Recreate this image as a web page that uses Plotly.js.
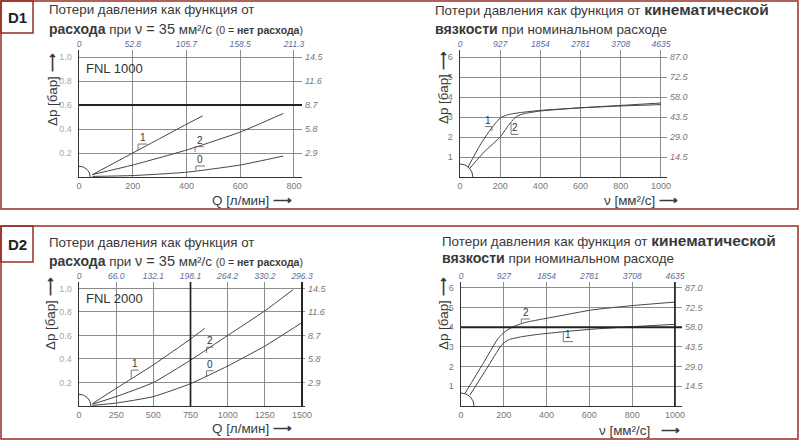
<!DOCTYPE html>
<html><head><meta charset="utf-8">
<script src="https://cdn.plot.ly/plotly-3.0.1.min.js"></script>
<style>html,body{margin:0;padding:0;background:#fff}#chart{width:800px;height:441px}</style>
</head><body><div id="chart"></div>
<script>
// ---------- DATA ----------
// D1 / FNL 1000 : pressure loss vs flow Q [l/min]
const d1FlowC1Q  = [50, 200, 300, 400, 460];
const d1FlowC1Dp = [0.02, 0.2, 0.32, 0.44, 0.51];
const d1FlowC2Q  = [50, 200, 400, 600, 760];
const d1FlowC2Dp = [0.02, 0.1, 0.225, 0.375, 0.53];
const d1FlowC0Q  = [50, 200, 400, 600, 760];
const d1FlowC0Dp = [0.005, 0.012, 0.04, 0.1, 0.175];
const d1FlowXTicks = [0, 200, 400, 600, 800];
const d1FlowTopText = ['0', '52.8', '105.7', '158.5', '211.3'];
// D1 : pressure loss vs viscosity
const d1ViscC1Nu = [40, 100, 150, 200, 240, 300, 400, 600, 800, 1000];
const d1ViscC1Dp = [0.5, 1.6, 2.35, 2.95, 3.12, 3.22, 3.33, 3.46, 3.55, 3.62];
const d1ViscC2Nu = [50, 120, 200, 250, 280, 320, 400, 600, 800, 1000];
const d1ViscC2Dp = [0.45, 1.25, 2.0, 2.7, 3.02, 3.17, 3.3, 3.46, 3.58, 3.7];
// D2 / FNL 2000 : pressure loss vs flow
const d2FlowC1Q  = [90, 250, 500, 750, 845];
const d2FlowC1Dp = [0.02, 0.15, 0.35, 0.57, 0.66];
const d2FlowC2Q  = [90, 250, 500, 750, 1000, 1250, 1440];
const d2FlowC2Dp = [0.015, 0.08, 0.2, 0.39, 0.6, 0.81, 0.99];
const d2FlowC0Q  = [90, 250, 500, 750, 1000, 1250, 1500];
const d2FlowC0Dp = [0.005, 0.025, 0.08, 0.19, 0.34, 0.51, 0.71];
const d2FlowXTicks = [0, 250, 500, 750, 1000, 1250, 1500];
const d2FlowTopText = ['0', '66.0', '132.1', '198.1', '264.2', '330.2', '296.3'];
// D2 : pressure loss vs viscosity
const d2ViscC1Nu = [42, 120, 190, 221, 284, 361, 486, 611, 800, 1000];
const d2ViscC1Dp = [0.56, 1.9, 3.1, 3.36, 3.52, 3.64, 3.78, 3.9, 4.03, 4.15];
const d2ViscC2Nu = [19, 100, 174, 206, 244, 299, 377, 486, 611, 800, 1000];
const d2ViscC2Dp = [0.65, 2.1, 3.44, 3.78, 4.03, 4.24, 4.41, 4.63, 4.88, 5.1, 5.28];
// shared tick labels
const flowYTicks = [0.2, 0.4, 0.6, 0.8, 1.0];
const flowYText  = ['0.2', '0.4', '0.6', '0.8', '1.0'];
const flowPsiText = ['2.9', '5.8', '8.7', '11.6', '14.5'];
const viscXTicks = [0, 200, 400, 600, 800, 1000];
const viscTopText = ['0', '927', '1854', '2781', '3708', '4635'];
const viscYTicks = [1, 2, 3, 4, 5, 6];
const viscYText  = ['1', '2', '3', '4', '5', '6'];
const viscPsiText = ['14.5', '29.0', '43.5', '58.0', '72.5', '87.0'];

// ---------- LAYOUT ----------
const W = 800, H = 441;
const FONT = 'Liberation Sans, Arial, sans-serif';
const px = v => v / W, py = v => 1 - v / H;
const curveLine = {color: '#444', width: 1, shape: 'spline', smoothing: 0.5};
const gridC = '#8c8c8c';

const panels = [
  {n: 1, xd: [79, 302], yd: [50, 177], xr: [0, 830], yr: [0, 1.06], xt: d1FlowXTicks, xtt: d1FlowXTicks.map(String), top: d1FlowTopText,
   yt: flowYTicks, ytt: flowYText, right: flowPsiText, ylabC: '#a8a8a8'},
  {n: 2, xd: [460, 667], yd: [50, 177], xr: [0, 1030], yr: [0, 6.35], xt: viscXTicks, xtt: viscXTicks.map(String), top: viscTopText,
   yt: viscYTicks, ytt: viscYText, right: viscPsiText, ylabC: '#777'},
  {n: 3, xd: [79, 305], yd: [282, 406], xr: [0, 1520], yr: [0, 1.055], xt: d2FlowXTicks, xtt: d2FlowXTicks.map(String), top: d2FlowTopText,
   yt: flowYTicks, ytt: flowYText, right: flowPsiText, ylabC: '#a8a8a8'},
  {n: 4, xd: [461, 682], yd: [282, 406], xr: [0, 1033], yr: [0, 6.3], xt: viscXTicks, xtt: viscXTicks.map(String), top: viscTopText,
   yt: viscYTicks, ytt: viscYText, right: viscPsiText, ylabC: '#777'}
];

const layout = {
  width: W, height: H, margin: {l: 0, r: 0, t: 0, b: 0},
  paper_bgcolor: '#fff', plot_bgcolor: 'rgba(0,0,0,0)', showlegend: false,
  font: {family: FONT, color: '#333'}, shapes: [], annotations: []
};
const traces = [];

panels.forEach(p => {
  const xk = p.n === 1 ? 'xaxis' : 'xaxis' + p.n, yk = p.n === 1 ? 'yaxis' : 'yaxis' + p.n;
  const xid = p.n === 1 ? 'x' : 'x' + p.n, yid = p.n === 1 ? 'y' : 'y' + p.n;
  const xTop = 'x' + (p.n + 4), yRight = 'y' + (p.n + 4);
  layout[xk] = {domain: [px(p.xd[0]), px(p.xd[1])], range: p.xr, anchor: yid, fixedrange: true,
    tickmode: 'array', tickvals: p.xt, ticktext: p.xtt, ticks: '', showgrid: true, gridcolor: gridC, gridwidth: 1,
    zeroline: false, showline: true, linecolor: '#333', linewidth: 1.3,
    tickfont: {size: 9, color: '#777', family: FONT}};
  layout[yk] = {domain: [py(p.yd[1]), py(p.yd[0])], range: p.yr, anchor: xid, fixedrange: true,
    tickmode: 'array', tickvals: p.yt, ticktext: p.ytt, ticks: '', showgrid: true, gridcolor: gridC, gridwidth: 1,
    zeroline: false, showline: true, linecolor: '#333', linewidth: 1.5, ticklabelstandoff: 4,
    tickfont: {size: 9, color: p.ylabC, family: FONT}};
  layout['xaxis' + (p.n + 4)] = {overlaying: xid, side: 'top', anchor: yid, range: p.xr, fixedrange: true,
    tickmode: 'array', tickvals: p.xt, ticktext: p.top, ticks: '', showgrid: false, zeroline: false, showline: false,
    tickfont: {size: 8.5, color: '#5d6c9c', family: FONT, style: 'italic'}};
  layout['yaxis' + (p.n + 4)] = {overlaying: yid, side: 'right', anchor: xid, range: p.yr, fixedrange: true,
    tickmode: 'array', tickvals: p.yt, ticktext: p.right, ticks: '', showgrid: false, zeroline: false, showline: false,
    ticklabelstandoff: 2, tickfont: {size: 9, color: '#777', family: FONT, style: 'italic'}};
  traces.push({type: 'scatter', x: [null], y: [null], xaxis: xTop, yaxis: yid, hoverinfo: 'skip', showlegend: false});
  traces.push({type: 'scatter', x: [null], y: [null], xaxis: xid, yaxis: yRight, hoverinfo: 'skip', showlegend: false});
  p.xid = xid; p.yid = yid;
});

function curve(p, xs, ys) {
  traces.push({type: 'scatter', mode: 'lines', x: xs, y: ys, xaxis: p.xid, yaxis: p.yid,
    line: curveLine, hoverinfo: 'skip', showlegend: false, cliponaxis: true});
}
curve(panels[0], d1FlowC1Q, d1FlowC1Dp);
curve(panels[0], d1FlowC2Q, d1FlowC2Dp);
curve(panels[0], d1FlowC0Q, d1FlowC0Dp);
curve(panels[1], d1ViscC1Nu, d1ViscC1Dp);
curve(panels[1], d1ViscC2Nu, d1ViscC2Dp);
curve(panels[2], d2FlowC1Q, d2FlowC1Dp);
curve(panels[2], d2FlowC2Q, d2FlowC2Dp);
curve(panels[2], d2FlowC0Q, d2FlowC0Dp);
curve(panels[3], d2ViscC1Nu, d2ViscC1Dp);
curve(panels[3], d2ViscC2Nu, d2ViscC2Dp);

// origin arcs (quarter circles, clipped by the subplot)
const arcR = [[42, 0.09], [64, 0.65], [80, 0.1], [61, 0.66]];
panels.forEach((p, i) => {
  layout.shapes.push({type: 'circle', xref: p.xid, yref: p.yid, x0: -arcR[i][0], x1: arcR[i][0], y0: -arcR[i][1], y1: arcR[i][1],
    line: {color: '#444', width: 1}, layer: 'above'});
});

// heavy reference lines
const heavy = (p, o, w) => layout.shapes.push(Object.assign({type: 'line', xref: p.xid, yref: p.yid, line: {color: '#222', width: w || 2}}, o));
heavy(panels[0], {x0: 0, x1: 830, y0: 0.6, y1: 0.6});
heavy(panels[2], {x0: 750, x1: 750, y0: 0, y1: 1.055}, 1.7);
heavy(panels[2], {x0: 1500, x1: 1500, y0: 0, y1: 1.055});
heavy(panels[3], {x0: 0, x1: 1033, y0: 4, y1: 4});
heavy(panels[3], {x0: 1000, x1: 1000, y0: 0, y1: 6.3}, 1.7);

// curve labels with leader brackets
function tag(p, txt, path, tx, ty) {
  layout.shapes.push({type: 'path', xref: p.xid, yref: p.yid, path: path, line: {color: '#555', width: 0.8}});
  layout.annotations.push({xref: p.xid, yref: p.yid, x: tx, y: ty, text: txt, showarrow: false,
    xanchor: 'center', yanchor: 'bottom', yshift: -1, font: {size: 10, color: '#333', family: FONT}});
}
tag(panels[0], '1', 'M220,0.225 L220,0.275 L253,0.275', 237, 0.275);
tag(panels[0], '2', 'M432,0.209 L432,0.253 L465,0.253', 449, 0.253);
tag(panels[0], '0', 'M435,0.058 L435,0.092 L469,0.092', 452, 0.092);
tag(panels[1], '1', 'M124,2.52 L159,2.52 L159,2.3', 140, 2.52);
tag(panels[1], '2', 'M254,2.7 L254,2.13 L290,2.13', 274, 2.15);
tag(panels[2], '1', 'M351,0.235 L351,0.305 L401,0.305', 377, 0.305);
tag(panels[2], '2', 'M858,0.45 L858,0.50 L903,0.50', 881, 0.50);
tag(panels[2], '0', 'M858,0.25 L858,0.30 L905,0.30', 882, 0.30);
tag(panels[3], '2', 'M282,4.2 L282,4.42 L322,4.42', 302, 4.42);
tag(panels[3], '1', 'M478,3.75 L478,3.27 L524,3.27', 501, 3.29);

// frames
const frameC = '#9a2e22';
const rect = (x0, y0, x1, y1) => layout.shapes.push({type: 'rect', xref: 'paper', yref: 'paper',
  x0: px(x0), x1: px(x1), y0: py(y1), y1: py(y0), line: {color: frameC, width: 1.5}});
rect(1, 1, 798, 209); rect(1, 1, 33, 33);
rect(1, 226, 798, 439); rect(1, 226, 33, 262);

// paper text
function ptext(x, y, text, o) {
  layout.annotations.push(Object.assign({xref: 'paper', yref: 'paper', x: px(x), y: py(y), text: text, showarrow: false,
    xanchor: 'left', yanchor: 'middle', font: {size: 13.4, color: '#3a3a3a', family: FONT}}, o || {}));
}
ptext(17, 17, '<b>D1</b>', {xanchor: 'center', font: {size: 15, color: '#222', family: FONT}});
ptext(17, 244, '<b>D2</b>', {xanchor: 'center', font: {size: 15, color: '#222', family: FONT}});

const flowL1 = 'Потери давления как функция от';
const flowL2 = '<span style="font-size:14px"><b>расхода</b></span> при <span style="font-size:14.5px">ν = 35</span> мм²/с <span style="font-size:10.5px">(0 = <b>нет расхода</b>)</span>';
const viscL1 = 'Потери давления как функция от <span style="font-size:15.5px"><b>кинематической</b></span>';
const viscL2 = '<span style="font-size:14.2px"><b>вязкости</b></span> при номинальном расходе';
ptext(47, 10, flowL1); ptext(47, 29, flowL2);
ptext(433, 10, viscL1); ptext(433, 29, viscL2);
ptext(47, 242, flowL1); ptext(47, 261, flowL2);
ptext(440, 240, viscL1); ptext(440, 258, viscL2);

ptext(84, 68, 'FNL 1000', {font: {size: 13, color: '#333', family: FONT}});
ptext(84, 298, 'FNL 2000', {font: {size: 13, color: '#333', family: FONT}});

const qTitle = 'Q [л/мин] <b>⟶</b>';
const nuTitle = 'ν [мм²/с] <b>⟶</b>';
ptext(294, 200, qTitle, {xanchor: 'right'});
ptext(680, 200, nuTitle, {xanchor: 'right'});
ptext(294, 428, qTitle, {xanchor: 'right'});
ptext(682, 430, 'ν [мм²/с] &nbsp;&nbsp;<b>⟶</b>', {xanchor: 'right'});

const dpTitle = 'Δp [бар] <b>⟶</b>';
[[52, 90], [443, 88], [50, 314], [443, 314]].forEach(([x, y]) =>
  ptext(x, y, dpTitle, {xanchor: 'center', textangle: -90}));

Plotly.newPlot('chart', traces, layout, {staticPlot: true, displayModeBar: false});
</script></body></html>
